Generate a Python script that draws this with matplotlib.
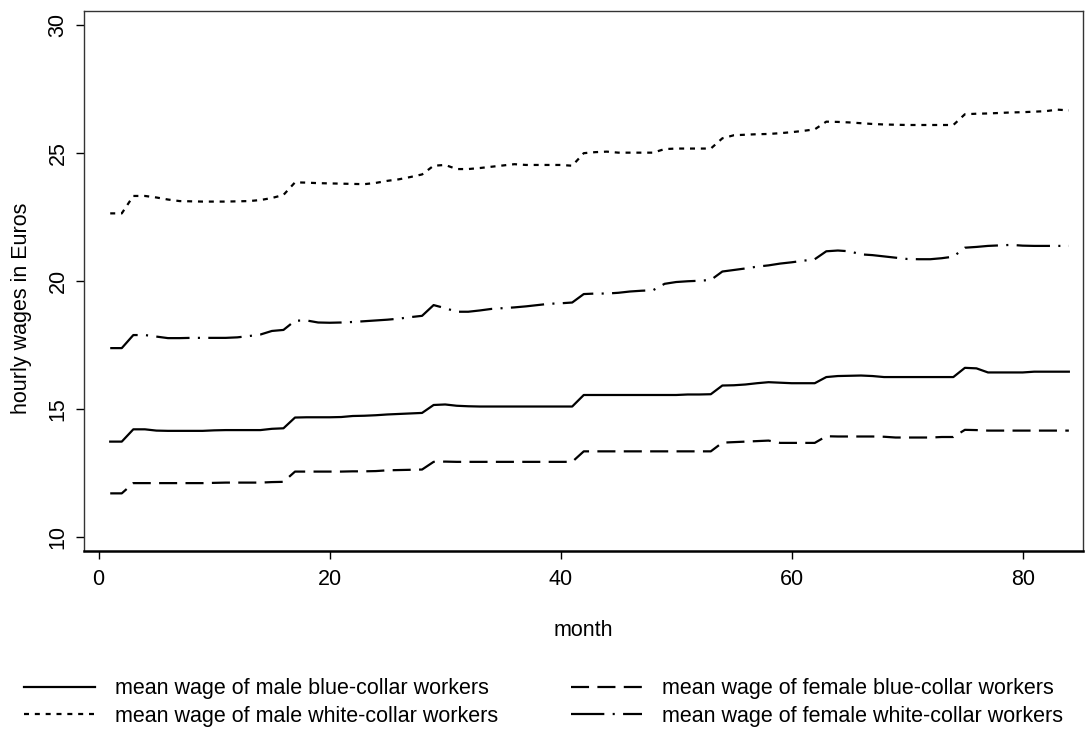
import numpy as np
import matplotlib
matplotlib.use("Agg")
import matplotlib.pyplot as plt

plt.rcParams['font.family'] = ['Liberation Sans', 'DejaVu Sans']
plt.rcParams['lines.scale_dashes'] = False

# months 1..84
months = np.arange(1, 85)

# mean wage of male blue-collar workers
male_blue = [13.72, 13.72, 14.20, 14.20, 14.15, 14.14, 14.14, 14.14, 14.14, 14.16,
             14.17, 14.17, 14.17, 14.17, 14.22, 14.24, 14.66, 14.67, 14.67, 14.67,
             14.68, 14.72, 14.73, 14.75, 14.78, 14.80, 14.82, 14.84, 15.15, 15.17,
             15.12, 15.10, 15.09, 15.09, 15.09, 15.09, 15.09, 15.09, 15.09, 15.09,
             15.09, 15.54, 15.54, 15.54, 15.54, 15.54, 15.54, 15.54, 15.54, 15.54,
             15.56, 15.56, 15.57, 15.91, 15.92, 15.95, 16.00, 16.04, 16.02, 16.00,
             16.00, 16.00, 16.24, 16.28, 16.29, 16.30, 16.28, 16.24, 16.24, 16.24,
             16.24, 16.24, 16.24, 16.24, 16.60, 16.58, 16.42, 16.42, 16.42, 16.42,
             16.45, 16.45, 16.45, 16.45]

# mean wage of female blue-collar workers
female_blue = [11.70, 11.70, 12.10, 12.10, 12.10, 12.10, 12.10, 12.10, 12.10, 12.11,
               12.12, 12.12, 12.12, 12.12, 12.14, 12.15, 12.55, 12.55, 12.55, 12.55,
               12.55, 12.56, 12.56, 12.57, 12.60, 12.61, 12.62, 12.63, 12.93, 12.94,
               12.93, 12.93, 12.93, 12.93, 12.93, 12.93, 12.93, 12.93, 12.93, 12.93,
               12.93, 13.34, 13.34, 13.34, 13.34, 13.34, 13.34, 13.34, 13.34, 13.34,
               13.34, 13.34, 13.34, 13.68, 13.70, 13.72, 13.74, 13.76, 13.67, 13.67,
               13.67, 13.67, 13.93, 13.92, 13.92, 13.92, 13.92, 13.91, 13.88, 13.88,
               13.88, 13.88, 13.90, 13.90, 14.18, 14.17, 14.15, 14.15, 14.15, 14.15,
               14.15, 14.15, 14.15, 14.15]

# mean wage of male white-collar workers
male_white = [22.63, 22.63, 23.31, 23.31, 23.25, 23.17, 23.11, 23.10, 23.09, 23.09,
              23.09, 23.10, 23.11, 23.15, 23.23, 23.35, 23.84, 23.83, 23.81, 23.80,
              23.79, 23.78, 23.77, 23.82, 23.90, 23.96, 24.05, 24.15, 24.49, 24.52,
              24.36, 24.36, 24.40, 24.45, 24.50, 24.55, 24.52, 24.52, 24.52, 24.52,
              24.49, 24.98, 25.02, 25.04, 25.00, 25.00, 25.00, 25.00, 25.14, 25.16,
              25.16, 25.16, 25.16, 25.56, 25.68, 25.70, 25.72, 25.73, 25.76, 25.80,
              25.85, 25.91, 26.21, 26.20, 26.18, 26.15, 26.12, 26.10, 26.09, 26.08,
              26.08, 26.08, 26.08, 26.08, 26.50, 26.52, 26.53, 26.55, 26.57, 26.58,
              26.60, 26.62, 26.68, 26.65]

# mean wage of female white-collar workers
female_white = [17.37, 17.37, 17.88, 17.88, 17.82, 17.76, 17.76, 17.77, 17.77, 17.77,
                17.77, 17.79, 17.84, 17.90, 18.04, 18.08, 18.44, 18.45, 18.37, 18.36,
                18.37, 18.39, 18.42, 18.45, 18.48, 18.52, 18.58, 18.63, 19.05, 18.93,
                18.79, 18.79, 18.84, 18.90, 18.93, 18.96, 19.00, 19.05, 19.10, 19.12,
                19.15, 19.48, 19.50, 19.50, 19.53, 19.58, 19.61, 19.63, 19.88, 19.95,
                19.98, 20.00, 20.03, 20.36, 20.42, 20.48, 20.55, 20.60, 20.67, 20.72,
                20.78, 20.84, 21.15, 21.18, 21.15, 21.03, 21.00, 20.95, 20.90, 20.85,
                20.84, 20.84, 20.88, 20.94, 21.29, 21.32, 21.36, 21.38, 21.40, 21.37,
                21.36, 21.36, 21.36, 21.36]

labels = ['mean wage of male blue-collar workers',
          'mean wage of female blue-collar workers',
          'mean wage of male white-collar workers',
          'mean wage of female white-collar workers']

fs = 15.5
lw = 1.6

fig = plt.figure(figsize=(10.87, 7.37), dpi=100)
ax = fig.add_axes([84 / 1087, 1 - 551 / 737, (1082.7 - 84) / 1087, (551 - 11) / 737])

l1, = ax.plot(months, male_blue, color='black', lw=lw, label=labels[0])
l2, = ax.plot(months, female_blue, color='black', lw=lw, dashes=(13, 6), label=labels[1])
l3, = ax.plot(months, male_white, color='black', lw=lw, dashes=(3.6, 4.2), label=labels[2])
l4, = ax.plot(months, female_white, color='black', lw=lw, dashes=(24, 6, 1.5, 6), label=labels[3])

ax.set_xlim(-1.27, 85.2)
ax.set_ylim(9.45, 30.53)
ax.set_xticks([0, 20, 40, 60, 80])
ax.set_yticks([10, 15, 20, 25, 30])

ax.tick_params(axis='both', direction='out', length=6, width=1, labelsize=fs, color='black')
ax.tick_params(axis='x', pad=7)
ax.tick_params(axis='y', pad=5)
for t in ax.get_yticklabels():
    t.set_rotation(90)
    t.set_va('center')

for s in ['top', 'right', 'left']:
    ax.spines[s].set_linewidth(1.0)
    ax.spines[s].set_color('#333333')
ax.spines['bottom'].set_linewidth(1.8)
ax.spines['bottom'].set_color('black')

ax.set_xlabel('month', fontsize=fs)
ax.xaxis.set_label_coords(0.5, -0.128)
ax.set_ylabel('hourly wages in Euros', fontsize=fs)
ax.yaxis.set_label_coords(-0.052, 0.45)

# legend rows: blue-collar first, white-collar second (filled column-wise)
fig.legend(handles=[l1, l3, l2, l4], ncol=2, loc='center',
           bbox_to_anchor=(543.5 / 1087, 1 - 702.5 / 737),
           frameon=False, fontsize=fs, handlelength=3.3, handletextpad=0.95,
           columnspacing=3.35, labelspacing=0.3, borderpad=0.2)

fig.savefig('out.png', dpi=100)
